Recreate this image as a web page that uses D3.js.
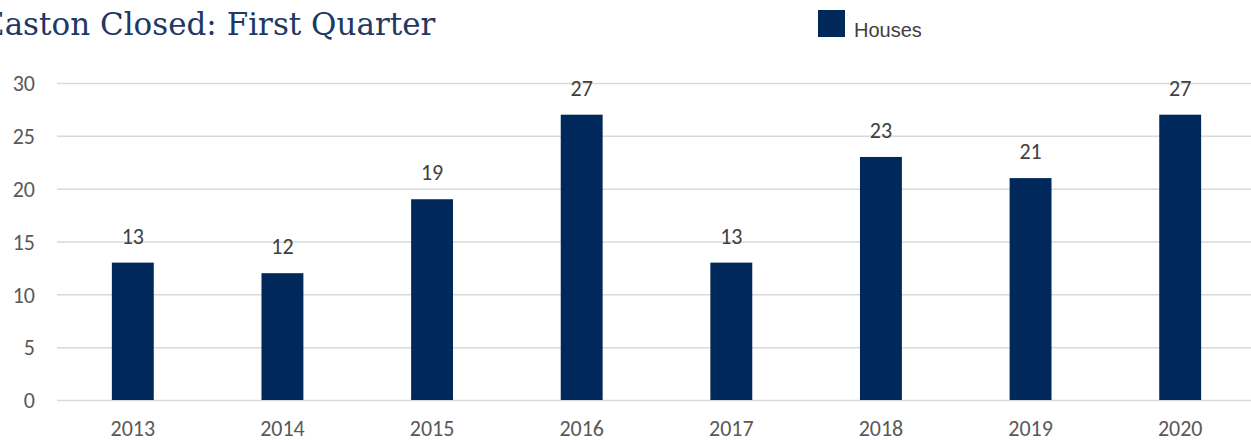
<!DOCTYPE html>
<html><head><meta charset="utf-8">
<script src="https://cdn.jsdelivr.net/npm/d3@7"></script>
<style>body{margin:0;background:#fff;} svg{display:block;}</style>
</head><body>
<svg id="c" width="1251" height="442"></svg>
<script>
const categories = ["2013","2014","2015","2016","2017","2018","2019","2020"];
const houses = [13,12,19,27,13,23,21,27];
const yTicks = [0,5,10,15,20,25,30];
const seriesName = "Houses";
const title = "Easton Closed: First Quarter";

const svg = d3.select("#c");
const x = d3.scaleBand().domain(categories).range([58,1255]).paddingInner(0.72).paddingOuter(0.36);
const y = d3.scaleLinear().domain([0,30]).range([400,83]);
const barColor = "#00285a";
const lblFont = "Carlito, 'Liberation Sans', sans-serif";

// gridlines
const yAxis = d3.axisLeft(y).tickValues(yTicks).tickSize(-(1251-57)).tickPadding(22);
const gy = svg.append("g").attr("transform","translate(57,0)").call(yAxis);
gy.select(".domain").remove();
gy.selectAll(".tick line").attr("stroke","#d9d9d9").attr("stroke-width",1.5);
gy.selectAll(".tick text").attr("fill","#595959").style("font-size","22px").style("font-family",lblFont).attr("dy","0.35em");

// bars
svg.append("g").selectAll("rect").data(categories).join("rect")
  .attr("x",d=>x(d)).attr("width",x.bandwidth())
  .attr("y",(d,i)=>y(houses[i])).attr("height",(d,i)=>y(0)-y(houses[i]))
  .attr("fill",barColor);

// value labels
svg.append("g").selectAll("text").data(categories).join("text")
  .attr("x",d=>x(d)+x.bandwidth()/2).attr("y",(d,i)=>y(houses[i])-19)
  .attr("text-anchor","middle").attr("fill","#404040")
  .style("font-size","22px").style("font-family",lblFont)
  .text((d,i)=>houses[i]);

// x axis
const xAxis = d3.axisBottom(x).tickSize(0).tickPadding(20);
const gx = svg.append("g").attr("transform","translate(0,400)").call(xAxis);
gx.select(".domain").remove();
gx.selectAll(".tick text").attr("fill","#595959").style("font-size","22px").style("font-family",lblFont);

// title
svg.append("text").attr("x",-18).attr("y",35).attr("fill","#1f3864")
  .style("font-size","31px").style("font-family","'DejaVu Serif', serif").text(title);

// legend
svg.append("rect").attr("x",818).attr("y",10).attr("width",27).attr("height",27).attr("fill",barColor);
svg.append("text").attr("x",854).attr("y",37).attr("fill","#404040")
  .style("font-size","20px").style("font-family","'Liberation Sans', sans-serif").text(seriesName);
</script>
</body></html>
